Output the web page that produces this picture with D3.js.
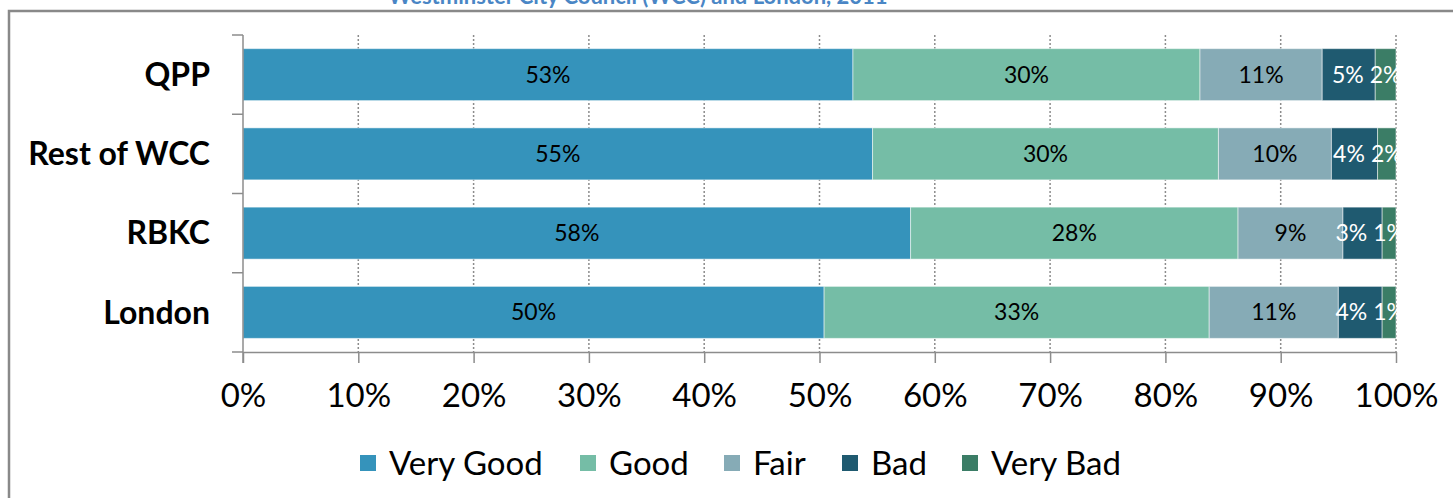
<!DOCTYPE html>
<html>
<head>
<meta charset="utf-8">
<script src="https://cdn.jsdelivr.net/npm/d3@7"></script>
<style>
  body { margin: 0; background: #fff; }
  svg { display: block; font-family: Lato, "Open Sans", sans-serif; }
</style>
</head>
<body>
<div id="my_chart"></div>
<script>
var categories = ["QPP", "Rest of WCC", "RBKC", "London"];
var series_names = ["Very Good", "Good", "Fair", "Bad", "Very Bad"];
var series_colors = ["#3593bb", "#75bda6", "#86abb6", "#1f5a70", "#3b7d66"];
var label_colors = ["#000", "#000", "#000", "#fff", "#fff"];
var very_good = [52.9, 54.6, 57.9, 50.4];
var good      = [30.1, 30.0, 28.4, 33.4];
var fair      = [10.6, 9.8, 9.1, 11.2];
var bad       = [4.6, 4.0, 3.4, 3.8];
var very_bad  = [1.8, 1.6, 1.2, 1.2];
var x_ticks = [0, 0.1, 0.2, 0.3, 0.4, 0.5, 0.6, 0.7, 0.8, 0.9, 1];
var title = "Westminster City Council (WCC) and London, 2011";

var series_values = [very_good, good, fair, bad, very_bad];

// rows for the stack
var rows = categories.map(function(c, i) {
  var r = {cat: c};
  series_names.forEach(function(s, j) { r[s] = series_values[j][i] / 100; });
  return r;
});

var width = 1453, height = 498;
var svg = d3.select("#my_chart").append("svg")
  .attr("width", width)
  .attr("height", height);

// chart frame (cut off at top, right, bottom)
svg.append("rect")
  .attr("x", 9).attr("y", 11)
  .attr("width", 1460).attr("height", 500)
  .attr("fill", "none")
  .attr("stroke", "#898989")
  .attr("stroke-width", 2.5);

// title, mostly above the picture
svg.append("text")
  .attr("x", 638).attr("y", 4)
  .attr("text-anchor", "middle")
  .attr("font-weight", "bold")
  .attr("font-size", "22px")
  .attr("fill", "#4a86c5")
  .text(title);

var x = d3.scaleLinear().domain([0, 1]).range([243, 1396]);
var y = d3.scaleBand().domain(categories).range([35, 352])
  .paddingInner(0.344).paddingOuter(0.172);

// dotted gridlines
svg.append("g").selectAll("line")
  .data(x_ticks.slice(1)).enter()
  .append("line")
  .attr("x1", function(d) { return x(d); })
  .attr("x2", function(d) { return x(d); })
  .attr("y1", 35).attr("y2", 352)
  .attr("stroke", "#8c8c8c")
  .attr("stroke-width", 1.5)
  .style("stroke-dasharray", "2, 2");

var stack = d3.stack().keys(series_names);
var layers = stack(rows);

svg.append("defs").append("clipPath").attr("id", "plotclip")
  .append("rect")
  .attr("x", x(0)).attr("y", 35)
  .attr("width", x(1) - x(0) + 1).attr("height", 317);

var bars = svg.append("g");
layers.forEach(function(layer, j) {
  bars.selectAll(null)
    .data(layer).enter()
    .append("rect")
    .attr("x", function(d) { return x(d[0]); })
    .attr("y", function(d) { return y(d.data.cat); })
    .attr("width", function(d) { return x(d[1]) - x(d[0]); })
    .attr("height", y.bandwidth())
    .attr("fill", series_colors[j])
    .attr("stroke", "rgba(255,255,255,0.5)")
    .attr("stroke-width", 1);
});

// value labels
var labels = svg.append("g").attr("clip-path", "url(#plotclip)");
var label_nodes = []; // [series][category]
layers.forEach(function(layer, j) {
  var sel = labels.selectAll(null)
    .data(layer).enter()
    .append("text")
    .attr("x", function(d) { return (x(d[0]) + x(d[1])) / 2; })
    .attr("y", function(d) { return y(d.data.cat) + y.bandwidth() / 2; })
    .attr("dy", "0.35em")
    .attr("text-anchor", "middle")
    .attr("font-size", "23px")
    .attr("fill", label_colors[j])
    .text(function(d) { return d3.format(".0%")(d[1] - d[0]); });
  label_nodes.push(sel.nodes());
});

// push crowded labels to the left, like the original does
var gap = 6;
categories.forEach(function(c, i) {
  for (var j = series_names.length - 2; j >= 0; j--) {
    var cur = label_nodes[j][i], nxt = label_nodes[j + 1][i];
    var cw = cur.getComputedTextLength(), nw = nxt.getComputedTextLength();
    var cx = +cur.getAttribute("x"), nx = +nxt.getAttribute("x");
    var limit = nx - nw / 2 - gap;
    if (cx + cw / 2 > limit) {
      cur.setAttribute("x", limit - cw / 2);
    }
  }
});

// x axis
var xAxis = svg.append("g")
  .attr("transform", "translate(0,352)")
  .call(d3.axisBottom(x).tickValues(x_ticks).tickFormat(d3.format(".0%"))
    .tickSize(11).tickSizeOuter(0).tickPadding(21));
xAxis.select(".domain").attr("stroke", "#8c8c8c").attr("stroke-width", 1.5);
xAxis.selectAll(".tick line").attr("stroke", "#8c8c8c").attr("stroke-width", 1.5);
xAxis.selectAll(".tick text")
  .attr("font-family", "Lato, sans-serif")
  .attr("font-size", "33px")
  .attr("fill", "#000");

// y axis line and boundary ticks
var step = y.step();
var bounds = categories.map(function(c) { return y(c) - step * y.paddingInner() / 2; });
bounds.push(352);
svg.append("line")
  .attr("x1", x(0)).attr("x2", x(0))
  .attr("y1", 35).attr("y2", 363)
  .attr("stroke", "#8c8c8c").attr("stroke-width", 1.5);
svg.append("g").selectAll("line")
  .data(bounds).enter()
  .append("line")
  .attr("x1", x(0) - 11).attr("x2", x(0))
  .attr("y1", function(d) { return d; })
  .attr("y2", function(d) { return d; })
  .attr("stroke", "#8c8c8c").attr("stroke-width", 1.5);

// category labels
svg.append("g").selectAll("text")
  .data(categories).enter()
  .append("text")
  .attr("x", 210)
  .attr("y", function(d) { return y(d) + y.bandwidth() / 2; })
  .attr("dy", "0.35em")
  .attr("text-anchor", "end")
  .attr("font-weight", "bold")
  .attr("font-size", "32px")
  .attr("fill", "#000")
  .text(function(d) { return d; });

// legend
var legend_x = [360, 580, 724, 842, 962];
var legend = svg.append("g");
series_names.forEach(function(s, j) {
  var g = legend.append("g").attr("transform", "translate(" + legend_x[j] + ",463)");
  g.append("rect")
    .attr("x", 0).attr("y", -8)
    .attr("width", 16).attr("height", 16)
    .attr("fill", series_colors[j]);
  g.append("text")
    .attr("x", 29).attr("y", 0)
    .attr("dy", "0.35em")
    .attr("font-size", "33px")
    .attr("fill", "#000")
    .text(s);
});
</script>
</body>
</html>
